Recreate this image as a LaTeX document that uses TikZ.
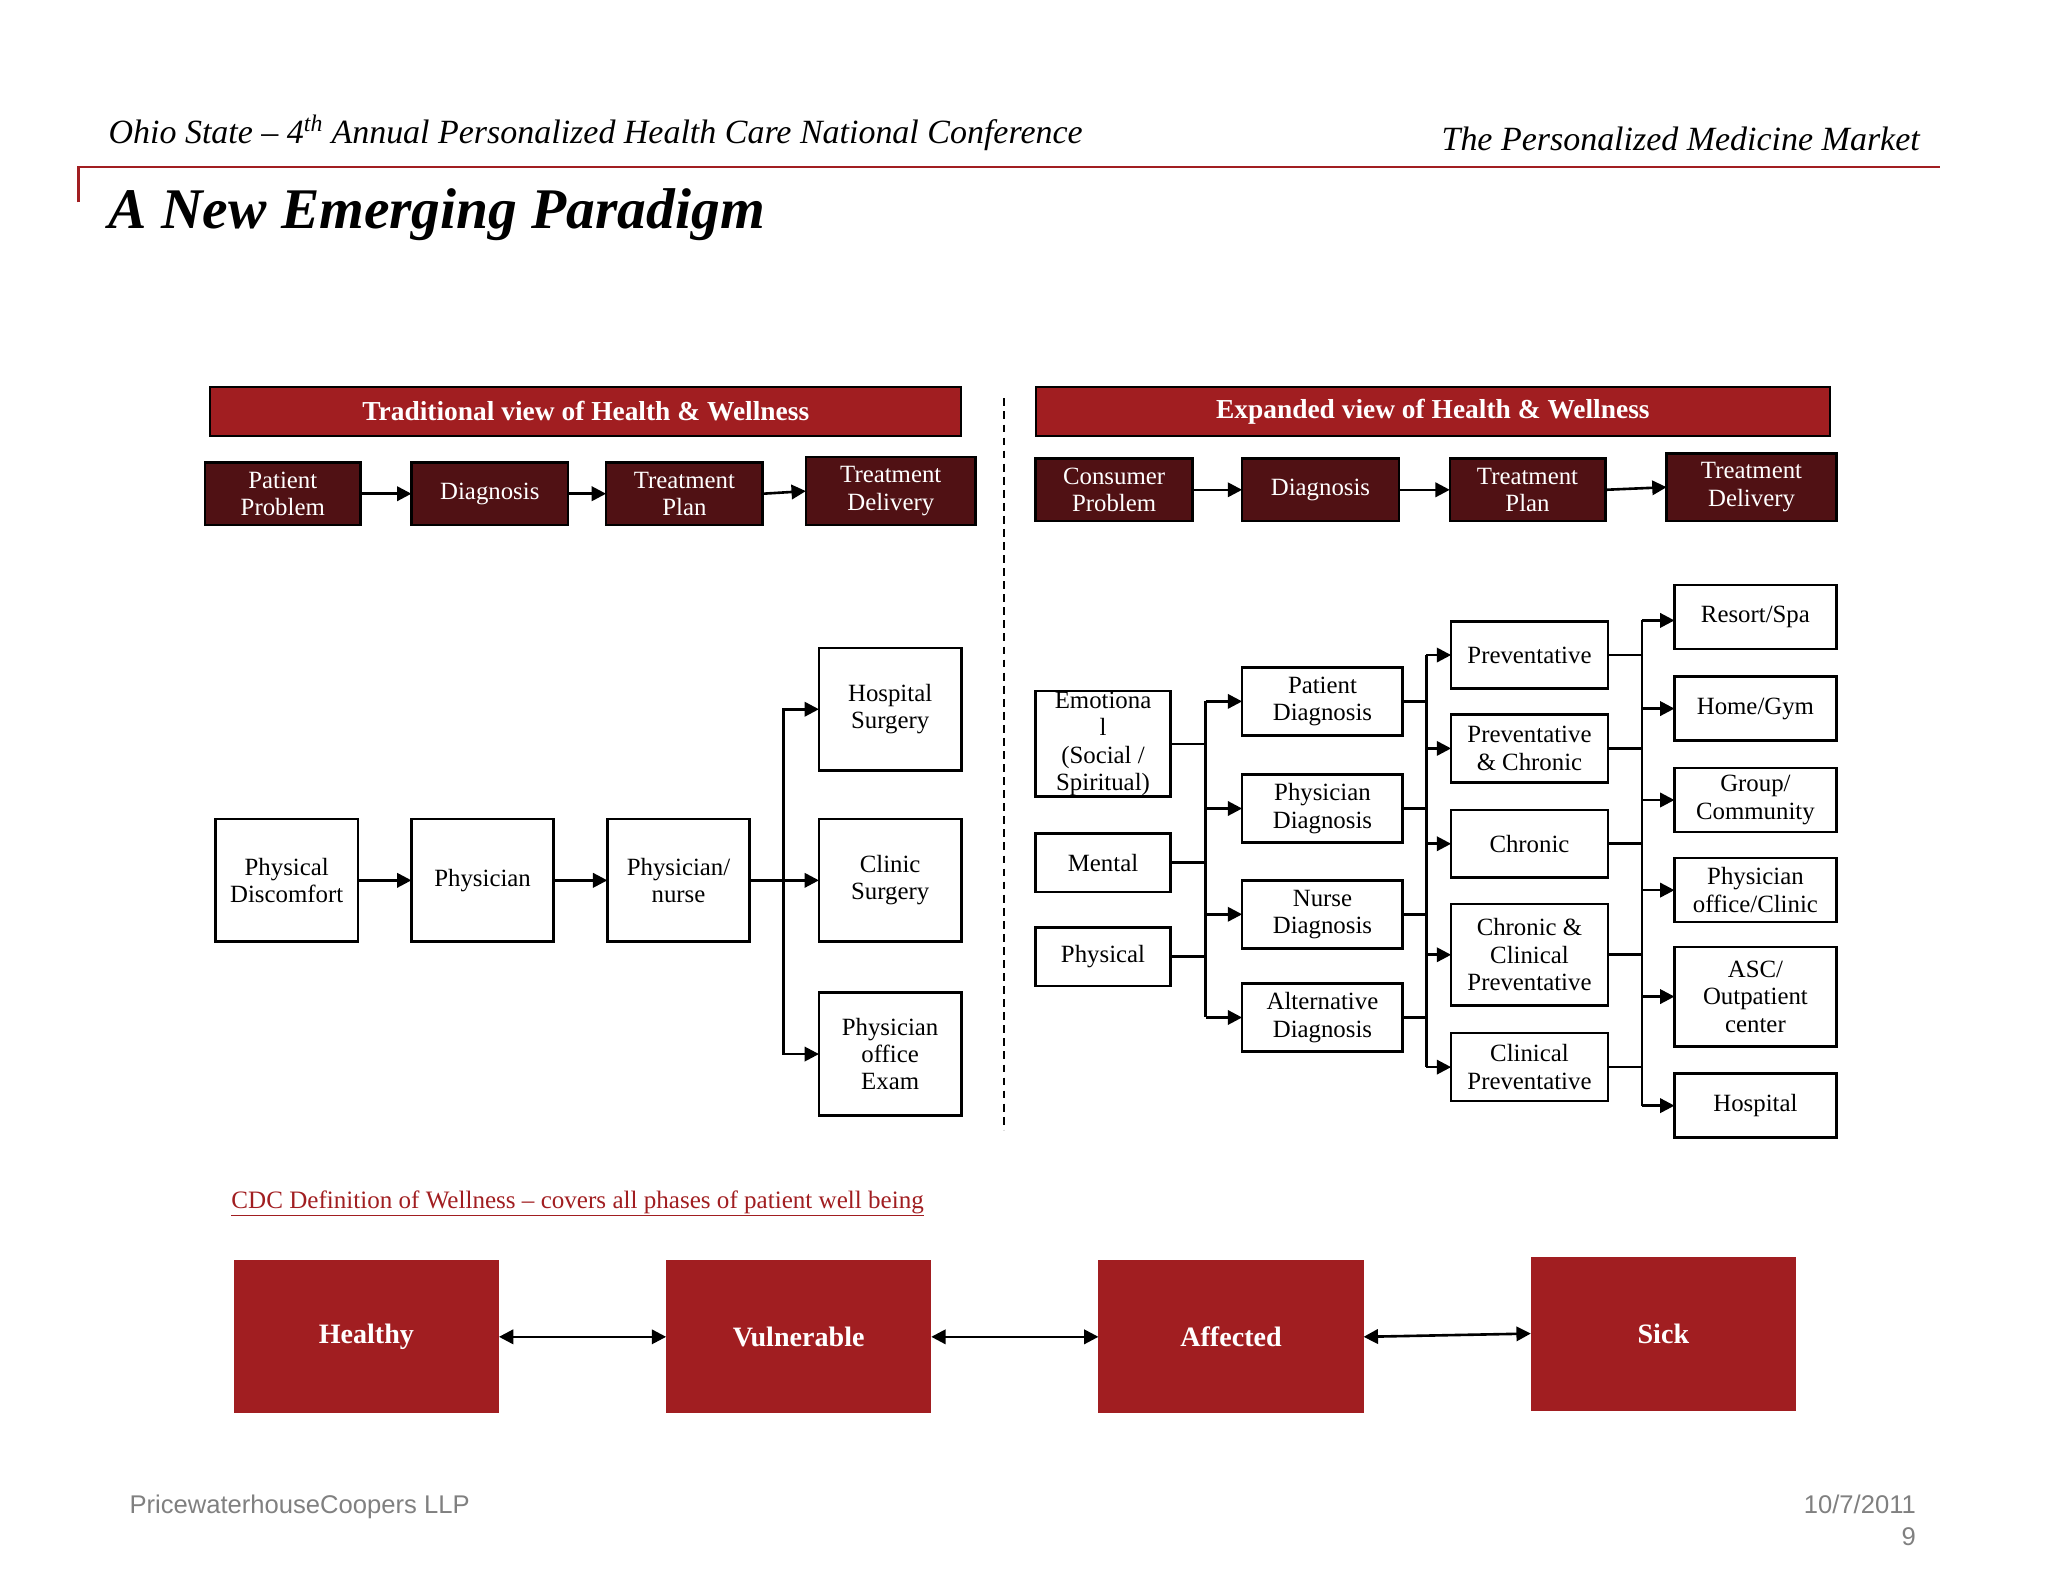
\documentclass[tikz,border=0pt]{standalone}
\usepackage{fontspec}
\setmainfont{Liberation Serif}
\newfontfamily\footfont{Liberation Sans}
\usetikzlibrary{arrows.meta}
\definecolor{hred}{RGB}{161,30,33}
\definecolor{maroon}{RGB}{80,17,20}
\definecolor{footgray}{RGB}{128,128,128}
\tikzset{
  hdr/.style={draw=black, line width=1.5pt, fill=hred, text=white, inner sep=0pt, outer sep=0pt,
    font=\bfseries\fontsize{21}{24}\selectfont},
  dbox/.style={draw=black, line width=2pt, fill=maroon, text=white, align=center, inner sep=0pt, outer sep=0pt,
    font=\fontsize{19}{21}\selectfont},
  wbox/.style={draw=black, line width=2pt, fill=white, text=black, align=center, inner sep=0pt, outer sep=0pt,
    font=\fontsize{19}{21}\selectfont},
  rbox/.style={fill=hred, text=white, inner sep=0pt, outer sep=0pt,
    font=\bfseries\fontsize{21.5}{25}\selectfont},
  conn/.style={line width=2pt, draw=black},
  arr/.style={conn, -{Triangle[length=11pt,width=11pt]}},
  darr/.style={conn, {Triangle[length=11pt,width=11pt]}-{Triangle[length=11pt,width=11pt]}}
}
\begin{document}
\begin{tikzpicture}[x=1pt,y=-1pt]
\useasboundingbox (0,0) rectangle (1568,1211);
% header
\node[anchor=base west, inner sep=0pt, font=\itshape\fontsize{26}{30}\selectfont] (ht1) at (83,110)
  {Ohio State -- 4\textsuperscript{th} Annual Personalized Health Care National Conference};
\node[anchor=base east, inner sep=0pt, font=\itshape\fontsize{26}{30}\selectfont] (ht2) at (1470,115)
  {The Personalized Medicine Market};
\draw[hred, line width=2pt] (60,155) -- (60,128) -- (1485,128);
\node[anchor=base west, inner sep=0pt, font=\bfseries\itshape\fontsize{44}{50}\selectfont] (title) at (83,175)
  {A New Emerging Paradigm};
% section headers
\node[hdr, minimum width=575pt, minimum height=38pt] (hdl) at (448.5,315) {Traditional view of Health \& Wellness};
\node[hdr, minimum width=608pt, minimum height=38pt] (hdr) at (1097,315) {Expanded view of Health \& Wellness};
\draw[line width=1.5pt, dash pattern=on 6pt off 4pt] (769,305) -- (769,865);
% top rows
\node[dbox, minimum width=119pt, minimum height=48pt] (lpp) at (216.5,378) {Patient\\Problem};
\node[dbox, minimum width=120pt, minimum height=48pt] (ldg) at (375,378) {Diagnosis};
\node[dbox, minimum width=120pt, minimum height=48pt] (ltp) at (524,378) {Treatment\\Plan};
\node[dbox, minimum width=130pt, minimum height=52pt] (ltd) at (682,376) {Treatment\\Delivery};
\draw[arr] (lpp.east) -- (ldg.west);
\draw[arr] (ldg.east) -- (ltp.west);
\draw[arr] (ltp.east) -- (ltd.west);
\node[dbox, minimum width=120pt, minimum height=48pt] (rcp) at (853,375) {Consumer\\Problem};
\node[dbox, minimum width=120pt, minimum height=48pt] (rdg) at (1011,375) {Diagnosis};
\node[dbox, minimum width=119pt, minimum height=48pt] (rtp) at (1169.5,375) {Treatment\\Plan};
\node[dbox, minimum width=130pt, minimum height=52pt] (rtd) at (1341,373) {Treatment\\Delivery};
\draw[arr] (rcp.east) -- (rdg.west);
\draw[arr] (rdg.east) -- (rtp.west);
\draw[arr] (rtp.east) -- (rtd.west);
% left flow
\node[wbox, minimum width=109pt, minimum height=94pt] (pdisc) at (219.5,674) {Physical\\Discomfort};
\node[wbox, minimum width=109pt, minimum height=94pt] (phys) at (369.5,674) {Physician};
\node[wbox, minimum width=109pt, minimum height=94pt] (pn) at (519.5,674) {Physician/\\nurse};
\node[wbox, minimum width=109pt, minimum height=94pt] (hs) at (681.5,543) {Hospital\\Surgery};
\node[wbox, minimum width=109pt, minimum height=94pt] (cs) at (681.5,674) {Clinic\\Surgery};
\node[wbox, minimum width=109pt, minimum height=94pt] (poe) at (681.5,807) {Physician\\office\\Exam};
\draw[arr] (pdisc.east) -- (phys.west);
\draw[arr] (phys.east) -- (pn.west);
\coordinate (lbus) at (600,674);
\draw[conn] (pn.east) -- (lbus);
\draw[arr] (lbus) |- (hs.west);
\draw[arr] (lbus) -- (cs.west);
\draw[arr] (lbus) |- (poe.west);
% right flow column 1
\node[wbox, minimum width=103pt, minimum height=81pt] (emo) at (844.5,569.5) {Emotiona\\l\\(Social /\\Spiritual)};
\node[wbox, minimum width=103pt, minimum height=45pt] (men) at (844.5,660.5) {Mental};
\node[wbox, minimum width=103pt, minimum height=45pt] (phy) at (844.5,732.5) {Physical};
% column 2
\node[wbox, minimum width=123pt, minimum height=52pt] (ptd) at (1012.5,537) {Patient\\Diagnosis};
\node[wbox, minimum width=123pt, minimum height=52pt] (phd) at (1012.5,619) {Physician\\Diagnosis};
\node[wbox, minimum width=123pt, minimum height=52pt] (nrd) at (1012.5,700) {Nurse\\Diagnosis};
\node[wbox, minimum width=123pt, minimum height=52pt] (ald) at (1012.5,779) {Alternative\\Diagnosis};
\coordinate (b1t) at (923,537);
\coordinate (b1b) at (923,779);
\draw[conn] (b1t) -- (b1b);
\draw[conn] (emo.east) -- (emo.east -| b1t);
\draw[conn] (men.east) -- (men.east -| b1t);
\draw[conn] (phy.east) -- (phy.east -| b1t);
\draw[arr] (b1t) -- (ptd.west);
\draw[arr] (phd.west -| b1t) -- (phd.west);
\draw[arr] (nrd.west -| b1t) -- (nrd.west);
\draw[arr] (b1b) -- (ald.west);
% column 3
\node[wbox, minimum width=120pt, minimum height=51pt] (pv) at (1171,501.5) {Preventative};
\node[wbox, minimum width=120pt, minimum height=52pt] (pc) at (1171,573) {Preventative\\\& Chronic};
\node[wbox, minimum width=120pt, minimum height=52pt] (ch) at (1171,646) {Chronic};
\node[wbox, minimum width=120pt, minimum height=78pt] (ccp) at (1171,731) {Chronic \&\\Clinical\\Preventative};
\node[wbox, minimum width=120pt, minimum height=52pt] (cp) at (1171,817) {Clinical\\Preventative};
\coordinate (b2t) at (1092,501.5);
\coordinate (b2b) at (1092,817);
\draw[conn] (b2t) -- (b2b);
\draw[conn] (ptd.east) -- (ptd.east -| b2t);
\draw[conn] (phd.east) -- (phd.east -| b2t);
\draw[conn] (nrd.east) -- (nrd.east -| b2t);
\draw[conn] (ald.east) -- (ald.east -| b2t);
\draw[arr] (b2t) -- (pv.west);
\draw[arr] (pc.west -| b2t) -- (pc.west);
\draw[arr] (ch.west -| b2t) -- (ch.west);
\draw[arr] (ccp.west -| b2t) -- (ccp.west);
\draw[arr] (b2b) -- (cp.west);
% column 4
\node[wbox, minimum width=124pt, minimum height=49pt] (rs) at (1344,472.5) {Resort/Spa};
\node[wbox, minimum width=124pt, minimum height=49pt] (hg) at (1344,542.5) {Home/Gym};
\node[wbox, minimum width=124pt, minimum height=49pt] (gc) at (1344,612.5) {Group/\\Community};
\node[wbox, minimum width=124pt, minimum height=49pt] (poc) at (1344,681.5) {Physician\\office/Clinic};
\node[wbox, minimum width=124pt, minimum height=76pt] (asc) at (1344,763) {ASC/\\Outpatient\\center};
\node[wbox, minimum width=124pt, minimum height=49pt] (hos) at (1344,846.5) {Hospital};
\coordinate (b3t) at (1257,475);
\coordinate (b3b) at (1257,846.5);
\draw[conn] (b3t) -- (b3b);
\draw[conn] (pv.east) -- (pv.east -| b3t);
\draw[conn] (pc.east) -- (pc.east -| b3t);
\draw[conn] (ch.east) -- (ch.east -| b3t);
\draw[conn] (ccp.east) -- (ccp.east -| b3t);
\draw[conn] (cp.east) -- (cp.east -| b3t);
\draw[arr] (b3t) -- (b3t -| rs.west);
\draw[arr] (hg.west -| b3t) -- (hg.west);
\draw[arr] (gc.west -| b3t) -- (gc.west);
\draw[arr] (poc.west -| b3t) -- (poc.west);
\draw[arr] (asc.west -| b3t) -- (asc.west);
\draw[arr] (b3b) -- (hos.west);
% CDC
\node[anchor=base west, inner sep=0pt, text=hred, font=\fontsize{19.2}{22}\selectfont] (cdc) at (177,925)
  {\underline{CDC Definition of Wellness -- covers all phases of patient well being}};
% bottom boxes
\node[rbox, minimum width=203pt, minimum height=117pt] (hea) at (280.5,1023.5) {Healthy};
\node[rbox, minimum width=203pt, minimum height=117pt] (vul) at (611.5,1023.5) {Vulnerable};
\node[rbox, minimum width=203pt, minimum height=117pt] (aff) at (942.5,1023.5) {Affected};
\node[rbox, minimum width=203pt, minimum height=118pt] (sic) at (1273.5,1021) {Sick};
\draw[darr] (hea.east) -- (vul.west);
\draw[darr] (vul.east) -- (aff.west);
\draw[darr] (aff.east) -- (sic.west);
% footer
\node[anchor=base west, inner sep=0pt, text=footgray, font=\footfont\fontsize{19.6}{22}\selectfont] (f1) at (99,1159) {PricewaterhouseCoopers LLP};
\node[anchor=base east, inner sep=0pt, text=footgray, font=\footfont\fontsize{19.6}{22}\selectfont] (f2) at (1467,1159) {10/7/2011};
\node[anchor=base east, inner sep=0pt, text=footgray, font=\footfont\fontsize{19.6}{22}\selectfont] (f3) at (1467,1183) {9};
\end{tikzpicture}
\end{document}
